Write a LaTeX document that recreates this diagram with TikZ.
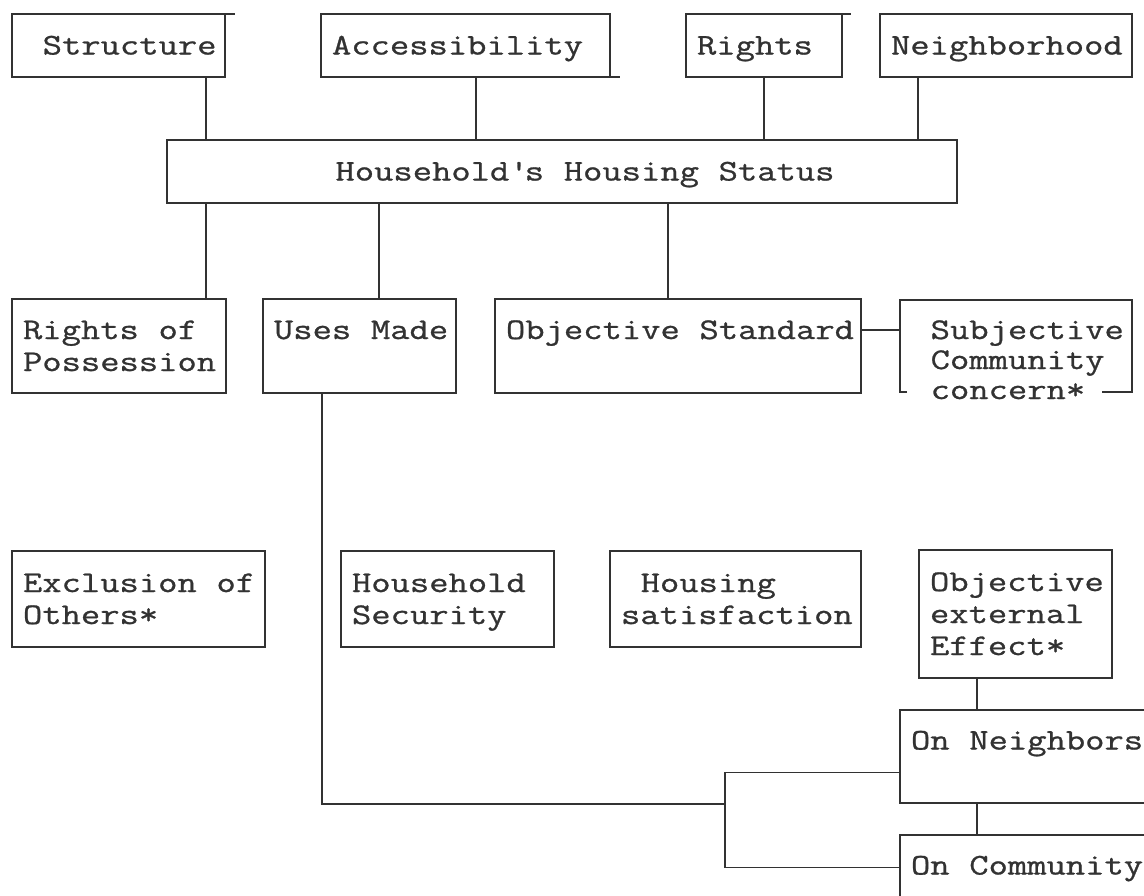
\documentclass[tikz,border=0pt]{standalone}
\usepackage{fontspec}
\newfontfamily\typewriter[FakeStretch=1.25, FakeBold=0.9, HyphenChar=None]{Latin Modern Mono}
\newcommand\boxfont{\typewriter\fontsize{30}{32}\selectfont}
\usepackage{tikz}
\usetikzlibrary{positioning}
\definecolor{ink}{RGB}{50,50,50}

\tikzset{
  box/.style={draw=ink, line width=1.8pt, anchor=north west, align=left,
    inner xsep=11pt, inner ysep=0pt, outer sep=0pt,
    text height=18pt, text depth=0pt,
    execute at begin node=\spaceskip 19.69pt\hyphenpenalty 10000\relax},
  wire/.style={draw=ink, line width=1.8pt},
}

\begin{document}
\begin{tikzpicture}[x=1pt, y=-1pt, every node/.style={font=\boxfont, text=ink}]
\useasboundingbox (0,0) rectangle (1144,895);
% top row: the four aspects
\node[box, text width=191pt, minimum height=63pt] (struct) at (12,14) {~Structure};
\node[box, text width=267pt, minimum height=63pt, right=96pt of struct] (access) {Accessibility};
\node[box, text width=134pt, minimum height=63pt, right=76pt of access] (rights) {Rights};
\node[box, text width=230pt, minimum height=63pt, right=38pt of rights] (nbh) {Neighborhood};
\node[box, text width=768pt, minimum height=63pt] (status) at (167,140) {~~~~~~~~Household\textquotesingle s~Housing~Status};
% second row
\node[box, text width=192pt, minimum height=94pt, text depth=32pt] (possess) at (12,299) {Rights~of\\Possession};
\node[box, text width=171pt, minimum height=94pt, text depth=32pt, right=37pt of possess] (uses) {Uses~Made};
\node[box, text width=344pt, minimum height=94pt, text depth=32pt, right=39pt of uses] (objstd) {Objective~Standard};
\node[box, draw=none, text width=210pt, minimum height=92pt, text depth=32pt, right=39pt of objstd] (subj) {~Subjective\\[-2pt]~Community\\[-2pt]~concern*};
% third row
\node[box, text width=231pt, minimum height=96pt, text depth=32pt] (exclude) at (12,551) {Exclusion~of\\Others*};
\node[box, text width=191pt, minimum height=96pt, text depth=32pt, right=76pt of exclude] (security) {Household\\Security};
\node[box, text width=229pt, minimum height=96pt, text depth=32pt, right=56pt of security] (satisf) {~Housing\\satisfaction};
\node[box, text width=171pt, minimum height=128pt, text depth=64pt] (external) at (919,550) {Objective\\external\\Effect*};
% effects
\node[box, text width=240pt, minimum height=93pt, text depth=32pt] (neigh) at (900,710) {On~Neighbors};
\node[box, text width=240pt, minimum height=93pt, text depth=32pt, below=32pt of neigh] (commun) {On~Community};
\coordinate (fork) at (725,804);

% typed box edges running on
\draw[wire] (struct.north east) -- ++(10pt,0pt);
\draw[wire] (access.south east) -- ++(10pt,0pt);
\draw[wire] (rights.north east) -- ++(9pt,0pt);
\draw[wire] ([xshift=7pt]subj.south west) -- (subj.south west) -- (subj.north west) -- (subj.north east) -- (subj.south east) -- ++(-30pt,0pt);

\draw[wire] ([xshift=-19pt]struct.south east) -- ([xshift=-19pt]struct.south east |- status.north);
\draw[wire] ([xshift=155pt]access.south west) -- ([xshift=155pt]access.south west |- status.north);
\draw[wire] (rights.south) -- (rights.south |- status.north);
\draw[wire] ([xshift=38pt]nbh.south west) -- ([xshift=38pt]nbh.south west |- status.north);
\draw[wire] ([xshift=-20pt]possess.north east) -- ([xshift=-20pt]possess.north east |- status.south);
\draw[wire] ([xshift=116pt]uses.north west) -- ([xshift=116pt]uses.north west |- status.south);
\draw[wire] ([xshift=-10pt]objstd.north) -- ([xshift=-10pt]objstd.north |- status.south);
\draw[wire] ([yshift=16pt]objstd.east) -- ([yshift=16pt]objstd.east -| subj.west);
\draw[wire] ([xshift=59pt]uses.south west) |- (fork);
\draw[wire] ([yshift=-16pt]neigh.west) -| (fork) |- ([yshift=14pt]commun.west);
\draw[wire] ([xshift=58pt]external.south west) -- ([xshift=58pt]external.south west |- neigh.north);
\draw[wire] ([xshift=77pt]neigh.south west) -- ([xshift=77pt]neigh.south west |- commun.north);
\end{tikzpicture}
\end{document}
